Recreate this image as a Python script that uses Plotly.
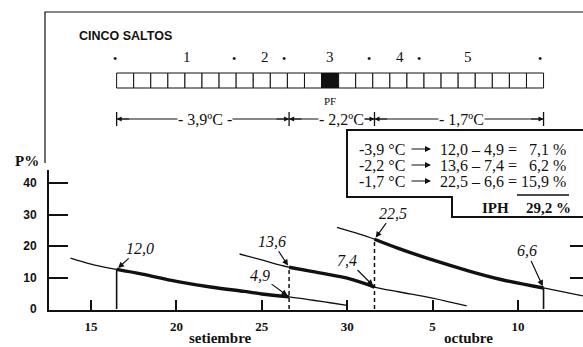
import plotly.graph_objects as go

# ---------------- data ----------------
# x is a day index: September days as-is, October n = 30 + n
c1_day = [13.8, 15.0, 16.5, 18.0, 20.0, 22.0, 24.0, 25.0, 26.6, 28.0, 29.0, 30.0]
c1_p   = [16.2, 14.3, 12.6, 11.1, 8.8, 7.0, 5.6, 4.8, 3.9, 2.8, 2.0, 1.2]
c2_day = [23.7, 25.0, 26.6, 28.0, 30.0, 31.6, 33.0, 35.0, 37.0]
c2_p   = [17.5, 15.6, 13.3, 11.9, 9.8, 7.0, 5.5, 3.5, 1.0]
c3_day = [29.4, 30.5, 31.6, 33.0, 35.0, 37.0, 39.0, 41.5, 43.8]
c3_p   = [26.0, 24.2, 22.2, 19.3, 15.6, 12.3, 9.4, 6.7, 4.2]

boundaries = [16.5, 26.6, 31.6, 41.5]
boundary_dash = ["solid", "4px,3px", "4px,3px", "solid"]
phase_temp = ["-3,9", "-2,2", "-1,7"]
p_start = [12.0, 13.6, 22.5]
p_end = [4.9, 7.4, 6.6]
p_diff = [7.1, 6.2, 15.9]
iph = 29.2

x_tickvals = [15, 20, 25, 30, 35, 40]
x_ticktext = ["15", "20", "25", "30", "5", "10"]
y_tickvals = [0, 10, 20, 30, 40]

bar_start = 16.5
n_cells = 25
pf_cell = 12
dots_day = [16.4, 23.4, 26.3, 31.3, 34.2, 41.3]
stage_day = [20.6, 25.2, 29.0, 33.1, 37.1]
stage_labels = ["1", "2", "3", "4", "5"]

# ---------------- helpers ----------------
INK = "#111111"
SERIF = "Liberation Serif"
SANS = "Liberation Sans"
W, H = 583, 347
L, R, T, B = 49, 0, 170, 37


def py(px):  # pixel row -> paper y
    return (H - B - px) / (H - T - B)


def pxx(px):  # pixel column -> paper x
    return (px - L) / (W - L - R)


def fmt(v):
    return f"{v:.1f}".replace(".", ",")


curves = [(c1_day, c1_p), (c2_day, c2_p), (c3_day, c3_p)]


def val_at(curve, d):
    ds, ps = curve
    return ps[ds.index(d)]


def text_ann(x, y, text, size, family=SERIF, xanchor="center", xref="paper"):
    return dict(x=x, y=y, xref=xref, yref="paper", text=text, showarrow=False,
                xanchor=xanchor, yanchor="middle", font=dict(family=family, size=size, color=INK))


fig = go.Figure()

# curves (thin full, thick phase segment)
for i, (ds, ps) in enumerate(curves):
    fig.add_trace(go.Scatter(x=ds, y=ps, mode="lines", line=dict(color=INK, width=1.3, shape="spline"),
                             hoverinfo="skip", showlegend=False))
    s, e = boundaries[i], boundaries[i + 1]
    sx = [d for d in ds if s <= d <= e]
    sy = [p for d, p in zip(ds, ps) if s <= d <= e]
    fig.add_trace(go.Scatter(x=sx, y=sy, mode="lines", line=dict(color=INK, width=3.4, shape="spline"),
                             hoverinfo="skip", showlegend=False))

# vertical lines at boundaries
vert_curve = [0, 1, 2, 2]
for b, dash, ci in zip(boundaries, boundary_dash, vert_curve):
    top = val_at(curves[ci], b)
    fig.add_trace(go.Scatter(x=[b, b], y=[0, top], mode="lines",
                             line=dict(color=INK, width=1.6 if dash == "solid" else 1.5, dash=dash),
                             hoverinfo="skip", showlegend=False))

# right-hand ticks
fig.add_trace(go.Scatter(x=[None], y=[None], yaxis="y2", showlegend=False))

ann = []
shapes = []

# curve value labels
label_offsets = [((23, -21), (-29, -21)), ((-17, -26), (-27, -27)), ((19, -26), (-17, -37))]
for i in range(3):
    s, e = boundaries[i], boundaries[i + 1]
    for d, v, (ox, oy) in ((s, p_start[i], label_offsets[i][0]), (e, p_end[i], label_offsets[i][1])):
        ann.append(dict(x=d, y=val_at(curves[i], d), xref="x", yref="y", text=f"<i>{fmt(v)}</i>",
                        showarrow=True, ax=ox, ay=oy, arrowhead=2, arrowsize=1, arrowwidth=1.2,
                        arrowcolor=INK, standoff=2, font=dict(family=SERIF, size=16, color=INK)))

# axis words
ann.append(text_ann(pxx(220), py(338), "<b>setiembre</b>", 15))
ann.append(text_ann(pxx(468), py(338), "<b>octubre</b>", 15))
ann.append(text_ann(pxx(27), py(161), "<b>P%</b>", 15))

# title
ann.append(text_ann(pxx(77), py(36), "<b>CINCO SALTOS</b>", 12.5, family=SANS, xanchor="left"))

# dots and stage numbers
for d in dots_day:
    ann.append(text_ann(d, py(59), "•", 12, xref="x"))
for d, t in zip(stage_day, stage_labels):
    ann.append(text_ann(d, py(57), t, 15, xref="x"))

# bar of cells
for k in range(n_cells):
    x0 = bar_start + k
    shapes.append(dict(type="rect", xref="x", yref="paper", x0=x0, x1=x0 + 1, y0=py(88), y1=py(73),
                       line=dict(color=INK, width=1), fillcolor=INK if k == pf_cell else "white"))
ann.append(text_ann(bar_start + pf_cell + 0.5, py(101), "PF", 11, xref="x"))

# dimension line
dim_y = py(119)
shapes.append(dict(type="line", xref="x", yref="paper", x0=boundaries[0], x1=boundaries[-1], y0=dim_y, y1=dim_y,
                   line=dict(color=INK, width=1)))
for b in boundaries:
    shapes.append(dict(type="line", xref="x", yref="paper", x0=b, x1=b, y0=py(126), y1=py(112),
                       line=dict(color=INK, width=1.3)))
dim_label_px = [205, 341, 461]
dim_labels = ["- " + phase_temp[0][1:] + "ºC -", "- " + phase_temp[1][1:] + "ºC", "- " + phase_temp[2][1:] + "ºC"]
for i in range(3):
    s, e = boundaries[i], boundaries[i + 1]
    ann.append(dict(x=s, y=dim_y, xref="x", yref="paper", text="", showarrow=True, ax=14, ay=0,
                    arrowhead=2, arrowsize=1, arrowwidth=1, arrowcolor=INK))
    ann.append(dict(x=e, y=dim_y, xref="x", yref="paper", text="", showarrow=True, ax=-14, ay=0,
                    arrowhead=2, arrowsize=1, arrowwidth=1, arrowcolor=INK))
    a = text_ann(pxx(dim_label_px[i]), dim_y, dim_labels[i], 16)
    a.update(bgcolor="white", borderpad=0)
    ann.append(a)

# frame
shapes.append(dict(type="path", xref="paper", yref="paper",
                   path=f"M {pxx(45)},{py(163)} L {pxx(45)},{py(12)} L {pxx(583)},{py(12)}",
                   line=dict(color=INK, width=1.2)))

# results box
shapes.append(dict(type="path", xref="paper", yref="paper",
                   path=(f"M {pxx(584)},{py(130)} L {pxx(347)},{py(130)} L {pxx(347)},{py(197)} "
                         f"L {pxx(452)},{py(197)} L {pxx(452)},{py(217)} L {pxx(584)},{py(217)}"),
                   line=dict(color=INK, width=2)))
row_px = [149, 165, 181]
for i in range(3):
    yy = py(row_px[i])
    ann.append(text_ann(pxx(357), yy, f"{phase_temp[i]} °C", 16, xanchor="left"))
    ann.append(dict(x=pxx(431), y=yy, xref="paper", yref="paper", text="", showarrow=True, ax=-21, ay=0,
                    arrowhead=2, arrowsize=1, arrowwidth=1.2, arrowcolor=INK))
    ann.append(text_ann(pxx(438), yy, f"{fmt(p_start[i])} – {fmt(p_end[i])} =", 16, xanchor="left"))
    ann.append(text_ann(pxx(568), yy, f"{fmt(p_diff[i])} %", 16, xanchor="right"))
shapes.append(dict(type="line", xref="paper", yref="paper", x0=pxx(517), x1=pxx(569), y0=py(195), y1=py(195),
                   line=dict(color=INK, width=1.5)))
ann.append(text_ann(pxx(480), py(208), "<b>IPH</b>", 15, xanchor="left"))
ann.append(text_ann(pxx(573), py(208), f"<b>{fmt(iph)} %</b>", 15, xanchor="right"))

fig.update_layout(
    width=W, height=H, margin=dict(l=L, r=R, t=T, b=B),
    paper_bgcolor="white", plot_bgcolor="white", showlegend=False,
    xaxis=dict(range=[12.54, 43.81], showgrid=False, zeroline=False, showline=True, linecolor=INK, linewidth=2,
               tickvals=x_tickvals, ticktext=x_ticktext, ticks="inside", ticklen=10, tickwidth=1.6, tickcolor=INK,
               tickfont=dict(family=SERIF, size=13, color=INK, weight="bold"), ticklabelstandoff=3),
    yaxis=dict(range=[-0.3, 44.2], showgrid=False, zeroline=False, showline=True, linecolor=INK, linewidth=2,
               tickvals=y_tickvals, ticks="inside", ticklen=19, tickwidth=1.6, tickcolor=INK,
               tickfont=dict(family=SANS, size=12, color=INK, weight="bold"), ticklabelstandoff=8),
    yaxis2=dict(range=[-0.3, 44.2], overlaying="y", side="right", showgrid=False, zeroline=False, showline=False,
                tickvals=[10, 20], ticks="inside", ticklen=13, tickwidth=1.6, tickcolor=INK, showticklabels=False),
    shapes=shapes, annotations=ann,
)

fig.write_html("out.html", config={"displayModeBar": False},
               post_script="document.body.style.margin='0px';document.body.style.overflow='hidden';")
